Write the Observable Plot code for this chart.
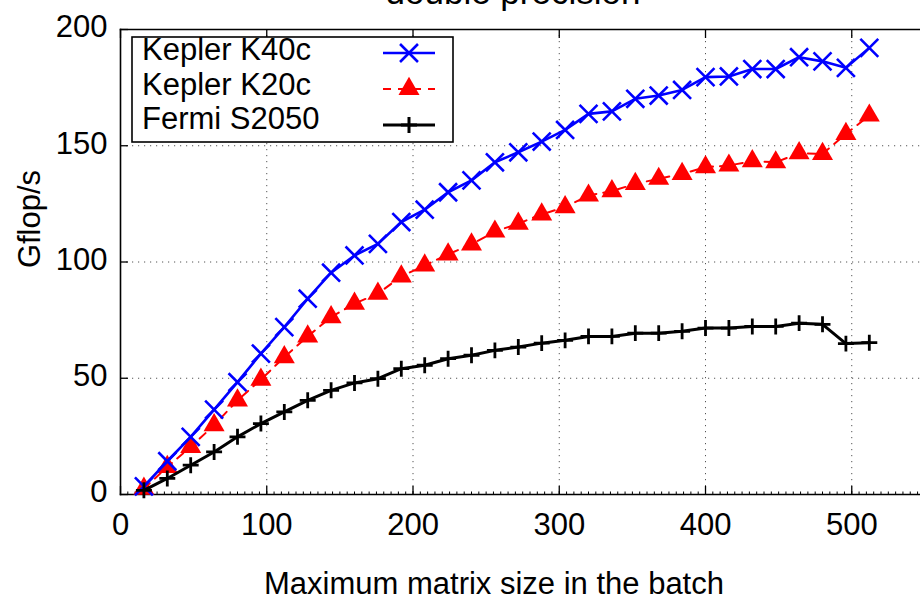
<!DOCTYPE html>
<html>
<head>
<meta charset="utf-8">
<script src="https://cdn.jsdelivr.net/npm/d3@7"></script>
<script src="https://cdn.jsdelivr.net/npm/@observablehq/plot@0.6"></script>
<style>
  html, body { margin: 0; padding: 0; background: white; overflow: hidden; }
</style>
</head>
<body>
<div id="chart"></div>
<script>
// ---- data ----
const sizes = [16,32,48,64,80,96,112,128,144,160,176,192,208,224,240,256,272,288,304,320,336,352,368,384,400,416,432,448,464,480,496,512];
const k40c  = [3.5,14.3,24.8,36.5,48.3,60.6,72.0,84.2,95.4,102.8,107.8,117.2,122.5,130.0,135.1,142.9,147.2,151.8,156.8,163.7,164.8,170.2,171.6,174.0,179.5,179.8,183.0,183.0,188.1,186.3,183.5,192.1];
const k20c  = [2.5,11.9,20.5,29.8,40.5,49.4,59.1,68.0,76.3,82.1,86.4,93.8,98.5,103.3,107.6,113.1,116.5,120.5,123.6,128.6,130.5,133.6,135.8,137.9,140.8,141.5,143.4,142.9,146.8,146.5,155.1,163.0];
const s2050 = [1.8,6.9,12.6,18.3,24.8,30.5,35.5,40.5,44.8,48.0,49.8,54.1,55.6,58.4,59.9,62.0,63.4,65.1,66.3,68.0,68.0,69.4,69.4,70.2,71.6,71.6,72.3,72.3,73.7,73.2,64.9,65.3];
const seriesNames = ["Kepler K40c", "Kepler K20c", "Fermi S2050"];
const xTicks = [0,100,200,300,400,500];
const xMinorTicks = d3.range(0, 550, 5);
const yTicks = [0,50,100,150,200];
const title = "double precision";
const xLabel = "Maximum matrix size in the batch";
const yLabel = "Gflop/s";

// ---- build table ----
const rows = [];
[k40c, k20c, s2050].forEach((vals, i) => {
  vals.forEach((v, j) => rows.push({size: sizes[j], gflops: v, series: seriesNames[i]}));
});
const bySeries = name => rows.filter(r => r.series === name);

const FONT = "'Liberation Sans', Arial, Helvetica, sans-serif";
const gridStyle = {stroke: "#555", strokeOpacity: 1, strokeWidth: 1, strokeDasharray: "1.2,4.8"};

const svg = Plot.plot({
  width: 920,
  height: 597,
  marginLeft: 120,
  marginRight: 0,
  marginTop: 29,
  marginBottom: 103,
  style: {fontFamily: FONT, fontSize: "31px", color: "black", background: "white"},
  x: {domain: [0, 547], label: null},
  y: {domain: [0, 200], label: null},
  marks: [
    Plot.gridX(xTicks.slice(1), gridStyle),
    Plot.gridY(yTicks.slice(1, -1), gridStyle),
    Plot.frame({anchor: "left", stroke: "black", strokeWidth: 1.6}),
    Plot.frame({anchor: "bottom", stroke: "black", strokeWidth: 1.6}),
    Plot.frame({anchor: "top", stroke: "black", strokeWidth: 1.6}),
    // inward ticks
    Plot.axisX(xMinorTicks, {anchor: "bottom", tickSize: -2.5, tickFormat: () => "", label: null, strokeWidth: 1}),
    Plot.axisX(xTicks, {anchor: "bottom", tickSize: -8, tickFormat: () => "", label: null, strokeWidth: 1.3}),
    Plot.axisX(xTicks, {anchor: "top", tickSize: -8, tickFormat: () => "", label: null, strokeWidth: 1.3}),
    Plot.axisY(yTicks, {anchor: "left", tickSize: -8, tickFormat: () => "", label: null, strokeWidth: 1.3}),
    // tick labels
    Plot.axisX(xTicks, {anchor: "bottom", tickSize: 0, tickPadding: 18, label: null, fontSize: 31}),
    Plot.axisY(yTicks, {anchor: "left", tickSize: 0, tickPadding: 13, label: null, fontSize: 31, dy: -2}),
    // series
    Plot.line(bySeries("Kepler K20c"), {x: "size", y: "gflops", stroke: "#ff0000", strokeWidth: 2, strokeDasharray: "8,7"}),
    Plot.dot(bySeries("Kepler K20c"), {x: "size", y: "gflops", symbol: "triangle", r: 7.8, fill: "#ff0000", stroke: "none"}),
    Plot.line(bySeries("Kepler K40c"), {x: "size", y: "gflops", stroke: "#0000ff", strokeWidth: 2.6}),
    Plot.dot(bySeries("Kepler K40c"), {x: "size", y: "gflops", symbol: "times", r: 8.2, stroke: "#0000ff", strokeWidth: 2.6}),
    Plot.line(bySeries("Fermi S2050"), {x: "size", y: "gflops", stroke: "black", strokeWidth: 3}),
    Plot.dot(bySeries("Fermi S2050"), {x: "size", y: "gflops", symbol: "plus", r: 5.2, stroke: "black", strokeWidth: 2.8})
  ]
});

const s = d3.select(svg);
// title (cut at top as in the reference)
s.append("text").attr("x", 513).attr("y", 4).attr("text-anchor", "middle")
  .attr("font-family", FONT).attr("font-size", 35).attr("fill", "black").text(title);
// x label
s.append("text").attr("x", 494).attr("y", 594).attr("text-anchor", "middle")
  .attr("font-family", FONT).attr("font-size", 31).attr("fill", "black").text(xLabel);
// y label
s.append("text").attr("transform", "translate(40,219) rotate(-90)").attr("text-anchor", "middle")
  .attr("font-family", FONT).attr("font-size", 31).attr("fill", "black").text(yLabel);

// legend
const lg = s.append("g");
lg.append("rect").attr("x", 132).attr("y", 37).attr("width", 321).attr("height", 105)
  .attr("fill", "white").attr("stroke", "black").attr("stroke-width", 1.6);
const legendStyles = [
  {name: seriesNames[0], color: "#0000ff", dash: null, width: 2.6, sym: d3.symbolTimes, size: Math.PI * 8.2 * 8.2, fill: "none"},
  {name: seriesNames[1], color: "#ff0000", dash: "8,7", width: 2, sym: d3.symbolTriangle, size: Math.PI * 7.8 * 7.8, fill: "#ff0000"},
  {name: seriesNames[2], color: "black", dash: null, width: 3, sym: d3.symbolPlus, size: Math.PI * 5.2 * 5.2, fill: "none"}
];
legendStyles.forEach((d, i) => {
  const cy = 53 + i * 36;
  lg.append("text").attr("x", 142).attr("y", 60 + i * 34.5).attr("text-anchor", "start")
    .attr("font-family", FONT).attr("font-size", 31).attr("fill", "black").text(d.name);
  const line = lg.append("line").attr("x1", 383).attr("x2", 435).attr("y1", cy).attr("y2", cy)
    .attr("stroke", d.color).attr("stroke-width", d.width);
  if (d.dash) line.attr("stroke-dasharray", d.dash);
  lg.append("path").attr("transform", `translate(409,${cy})`)
    .attr("d", d3.symbol(d.sym, d.size)())
    .attr("fill", d.fill)
    .attr("stroke", d.fill === "none" ? d.color : "none")
    .attr("stroke-width", d.width);
});

document.getElementById("chart").appendChild(svg);
</script>
</body>
</html>
